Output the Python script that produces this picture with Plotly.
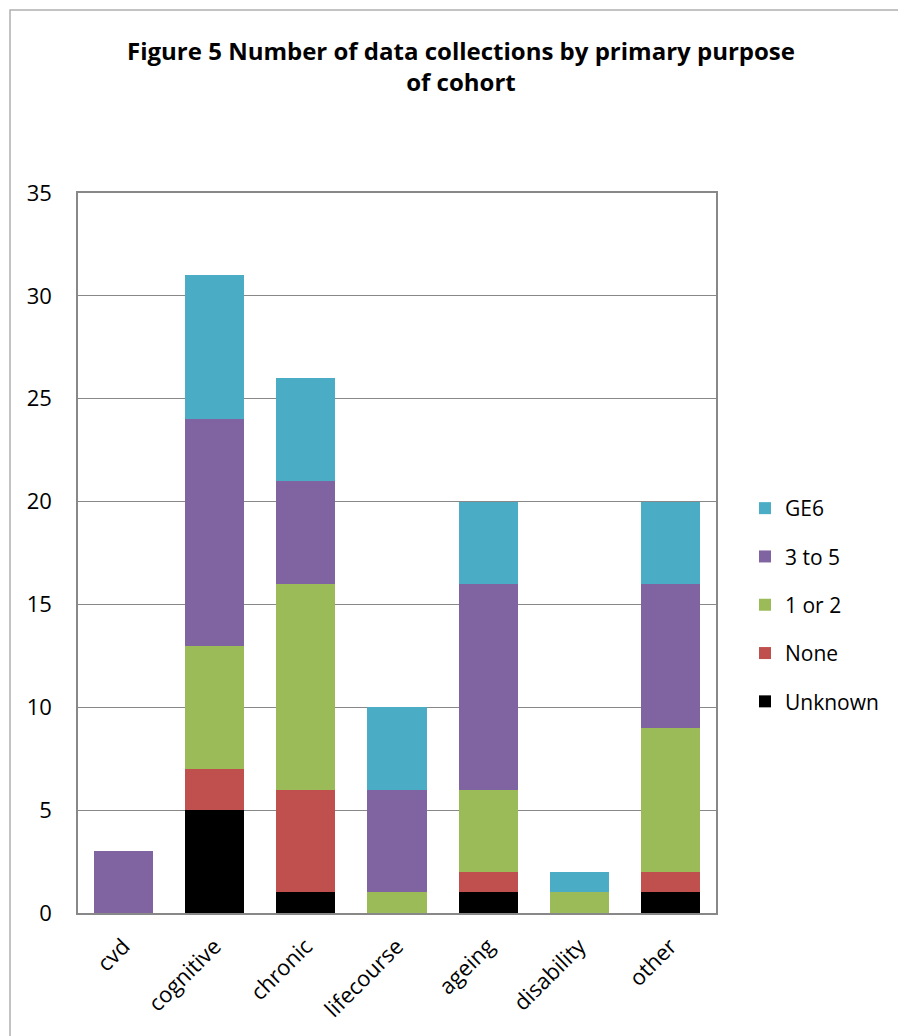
import plotly.graph_objects as go

categories = ["cvd", "cognitive", "chronic", "lifecourse", "ageing", "disability", "other"]
unknown = [0, 5, 1, 0, 1, 0, 1]
none_ = [0, 2, 5, 0, 1, 0, 1]
one_or_two = [0, 6, 10, 1, 4, 1, 7]
three_to_five = [3, 11, 5, 5, 10, 0, 7]
ge6 = [0, 7, 5, 4, 4, 1, 4]

series = [
    ("Unknown", unknown, "#000000"),
    ("None", none_, "#C0504D"),
    ("1 or 2", one_or_two, "#9BBB59"),
    ("3 to 5", three_to_five, "#8064A2"),
    ("GE6", ge6, "#4BACC6"),
]

FONT = "Open Sans, Lato, sans-serif"

fig = go.Figure()
for i, (name, vals, color) in enumerate(series):
    fig.add_trace(go.Bar(
        x=categories, y=vals, name=name, marker=dict(color=color, line=dict(width=0)),
        legendgroup=name, legendrank=len(series) - i,
    ))

W, H = 898, 1036
L, R, T, B = 78, 182, 193, 123
pw, ph = W - L - R, H - T - B

def px_x(p):
    return (p - L) / pw

def px_y(p):
    return (H - B - p) / ph

fig.update_layout(
    width=W, height=H,
    margin=dict(l=L, r=R, t=T, b=B),
    barmode="stack", bargap=0.35,
    paper_bgcolor="white", plot_bgcolor="white",
    font=dict(family=FONT, size=22, color="#000000"),
    title=dict(
        text="<b>Figure 5 Number of data collections by primary purpose<br>of cohort</b>",
        x=461 / W, xref="container", y=1 - 60 / H, yanchor="middle",
        xanchor="center",
        font=dict(family=FONT, size=24, color="#000000"),
    ),
    showlegend=True,
    legend=dict(
        traceorder="grouped", x=px_x(745), y=px_y(488), xanchor="left", yanchor="top",
        font=dict(family=FONT, size=21), tracegroupgap=18, itemwidth=30,
        bgcolor="rgba(0,0,0,0)", borderwidth=0,
    ),
    xaxis=dict(
        tickangle=-45, showline=True, linecolor="#888888", linewidth=1.5, mirror=True,
        ticks="", ticklabelstandoff=10, tickfont=dict(family=FONT, size=22),
    ),
    yaxis=dict(
        range=[0, 35], dtick=5, showgrid=True, gridcolor="#888888", gridwidth=1.2,
        showline=True, linecolor="#888888", linewidth=1.5, mirror=True,
        ticks="", ticklabelstandoff=20, tickfont=dict(family=FONT, size=22), zeroline=False,
    ),
    shapes=[dict(
        type="rect", xref="paper", yref="paper",
        x0=px_x(10), x1=px_x(905), y0=px_y(1045), y1=px_y(10),
        line=dict(color="#B0B0B0", width=1.5), fillcolor="rgba(0,0,0,0)", layer="below",
    )],
)

fig.write_html("out.html")
